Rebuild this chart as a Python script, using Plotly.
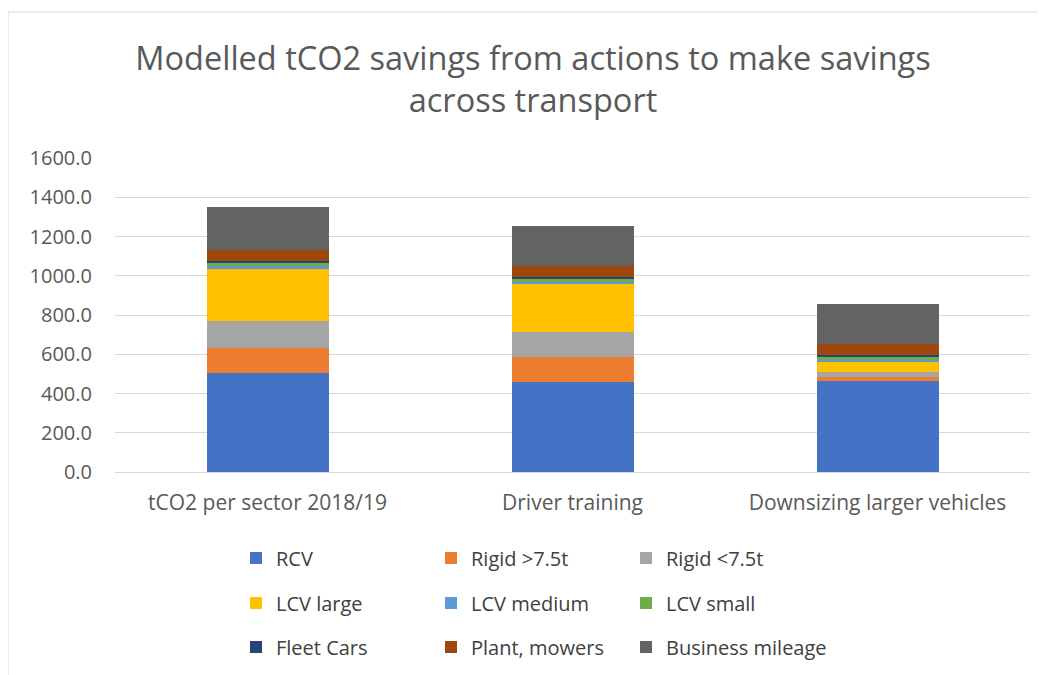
import plotly.graph_objects as go

categories = ["tCO2 per sector 2018/19", "Driver training", "Downsizing larger vehicles"]
series_names = ["RCV", "Rigid >7.5t", "Rigid <7.5t", "LCV large", "LCV medium",
                "LCV small", "Fleet Cars", "Plant, mowers", "Business mileage"]
rcv = [503, 461, 462]
rigid_large = [127, 123, 24]
rigid_small = [141, 128, 25]
lcv_large = [265, 246, 48]
lcv_medium = [14, 12, 14]
lcv_small = [15, 14, 15]
fleet_cars = [8, 8, 8]
plant_mowers = [60, 60, 58]
business_mileage = [216, 200, 202]
colors = ["#4472C4", "#ED7D31", "#A5A5A5", "#FFC000", "#5B9BD5",
          "#70AD47", "#264478", "#9E480E", "#636363"]
y_ticks = [0, 200, 400, 600, 800, 1000, 1200, 1400, 1600]

values = [rcv, rigid_large, rigid_small, lcv_large, lcv_medium,
          lcv_small, fleet_cars, plant_mowers, business_mileage]
legend_ids = ["legend", "legend", "legend", "legend2", "legend2", "legend2",
              "legend3", "legend3", "legend4"]

font = "'Open Sans', sans-serif"
fig = go.Figure()
for name, vals, col, lg in zip(series_names, values, colors, legend_ids):
    fig.add_trace(go.Bar(x=categories, y=vals, name=name, marker_color=col,
                         marker_line_width=0, legend=lg))

W, H = 1045, 675
L, T, PW, PH = 107, 150, 915, 314
leg_common = dict(orientation="h", xref="container", yref="container",
                  xanchor="left", yanchor="middle", entrywidth=150,
                  font=dict(family=font, size=20, color="#404040"),
                  bgcolor="rgba(0,0,0,0)", traceorder="normal")

fig.update_layout(
    width=W, height=H,
    barmode="stack", bargap=0.6,
    paper_bgcolor="white", plot_bgcolor="white",
    margin=dict(l=L, r=W - L - PW, t=T, b=H - T - PH),
    font=dict(family=font, color="#595959"),
    title=dict(text="Modelled tCO2 savings from actions to make savings<br>across transport",
               x=525 / W, xanchor="center", y=1 - 62 / H, yanchor="middle",
               font=dict(family=font, size=32.5, color="#595959")),
    legend=dict(**leg_common, x=228 / W, y=1 - 550 / H),
    legend2=dict(**leg_common, x=228 / W, y=1 - 595 / H),
    legend3=dict(**leg_common, x=228 / W, y=1 - 639 / H),
    legend4=dict(**{**leg_common, "entrywidth": 190}, x=618 / W, y=1 - 639 / H),
    xaxis=dict(showgrid=False, showline=True, linecolor="#D9D9D9", linewidth=1,
               ticks="", tickfont=dict(family=font, size=21, color="#595959"),
               ticklabelstandoff=12),
    yaxis=dict(range=[0, 1600], tickvals=y_ticks, tickformat=".1f",
               showgrid=True, gridcolor="#D9D9D9", gridwidth=1,
               zeroline=False, showline=False, ticks="",
               tickfont=dict(family=font, size=20, color="#595959"),
               ticklabelstandoff=22),
    shapes=[dict(type="rect", xref="paper", yref="paper",
                 x0=(0 - L) / PW, x1=(1060 - L) / PW,
                 y0=(T + PH - 700) / PH, y1=(T + PH - 4) / PH,
                 line=dict(color="#D9D9D9", width=1), fillcolor="rgba(0,0,0,0)",
                 layer="below")],
)

fig.write_html("out.html")
